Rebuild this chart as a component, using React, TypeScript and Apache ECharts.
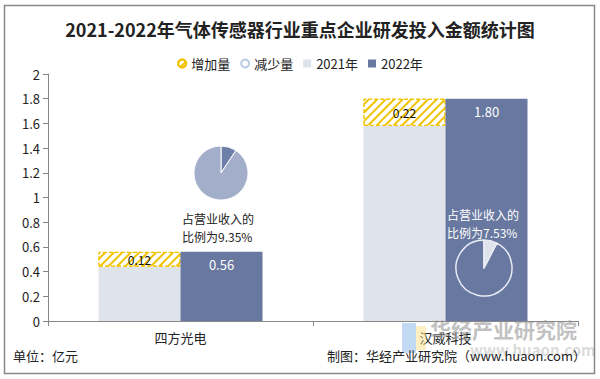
import React, { useEffect, useRef } from "react";
import * as echarts from "echarts";

const categories = ["四方光电", "汉威科技"];
const values2021 = [0.44, 1.58];
const increase = [0.12, 0.22];
const values2022 = [0.56, 1.8];
const decrease: (number | null)[] = [null, null];
const ratio1 = [9.35, 90.65];
const ratio2 = [7.53, 92.47];
const yTicks = [0, 2];

const DARK = "#6878a0";
const LIGHT = "#dfe3ec";
const YELLOW = "#f2c200";
const FONT = "'Noto Sans CJK SC', 'Noto Sans', sans-serif";

export default function App() {
  const ref = useRef<HTMLDivElement>(null);
  useEffect(() => {
    if (!ref.current) return;
    const chart = echarts.init(ref.current, null, { renderer: "svg" });
    chart.setOption({
      animation: false,
      textStyle: { fontFamily: FONT },
      title: {
        text: "2021-2022年气体传感器行业重点企业研发投入金额统计图",
        left: "center",
        top: 15,
        textStyle: { fontSize: 18, fontWeight: "bold", color: "#222", fontFamily: FONT },
      },
      legend: {
        top: 52,
        left: "center",
        itemWidth: 8,
        itemHeight: 8,
        itemGap: 10,
        textStyle: { fontSize: 13, color: "#222" },
        data: [
          { name: "增加量", icon: "circle", itemStyle: { color: "#fff", borderColor: YELLOW, borderWidth: 2 } },
          { name: "减少量", icon: "circle", itemStyle: { color: "#fff", borderColor: "#b8cce4", borderWidth: 2 } },
          { name: "2021年", icon: "rect", itemStyle: { color: LIGHT } },
          { name: "2022年", icon: "rect", itemStyle: { color: DARK } },
        ],
      },
      grid: { left: 48, right: 22, top: 74, bottom: 58 },
      xAxis: {
        type: "category",
        data: categories,
        axisLine: { lineStyle: { color: "#888" } },
        axisTick: { show: true, alignWithLabel: false, lineStyle: { color: "#888" } },
        axisLabel: { color: "#222", fontSize: 13, margin: 10 },
      },
      yAxis: {
        type: "value",
        min: yTicks[0],
        max: yTicks[1],
        interval: 0.2,
        axisLine: { show: true, lineStyle: { color: "#888" } },
        axisTick: { show: true, lineStyle: { color: "#888" } },
        splitLine: { show: false },
        axisLabel: { color: "#222", fontSize: 13, margin: 8 },
      },
      series: [
        {
          name: "2021年",
          type: "bar",
          stack: "a",
          barWidth: 82,
          barGap: "0%",
          data: values2021,
          itemStyle: { color: LIGHT },
        },
        {
          name: "增加量",
          type: "bar",
          stack: "a",
          barWidth: 82,
          data: increase,
          itemStyle: {
            color: "#fff",
            borderColor: YELLOW,
            borderWidth: 1,
            borderType: "dashed",
            decal: {
              symbol: "rect",
              symbolSize: 1,
              color: YELLOW,
              dashArrayX: [1, 0],
              dashArrayY: [2, 4],
              rotation: -Math.PI / 4,
            },
          },
          label: {
            show: true,
            position: "inside",
            color: "#111",
            fontSize: 12,
            formatter: (p: any) => p.value.toFixed(2),
          },
        },
        {
          name: "减少量",
          type: "bar",
          stack: "a",
          barWidth: 82,
          data: decrease,
          itemStyle: { color: "#b8cce4" },
        },
        {
          name: "2022年",
          type: "bar",
          stack: "b",
          barWidth: 82,
          barGap: "0%",
          data: values2022,
          itemStyle: { color: DARK },
          label: {
            show: true,
            position: "insideTop",
            distance: 6,
            color: "#fff",
            fontSize: 13,
            formatter: (p: any) => p.value.toFixed(2),
          },
        },
        {
          type: "pie",
          name: "ratio1",
          center: [221, 173],
          radius: 27,
          startAngle: 90,
          clockwise: true,
          silent: true,
          z: 5,
          label: { show: false },
          labelLine: { show: false },
          itemStyle: { borderColor: "#fff", borderWidth: 1 },
          data: [
            { value: ratio1[0], itemStyle: { color: "#6d7fa6" } },
            { value: ratio1[1], itemStyle: { color: "#a3aecb" } },
          ],
        },
        {
          type: "pie",
          name: "ratio2",
          center: [484, 268],
          radius: 28,
          startAngle: 90,
          clockwise: true,
          silent: true,
          z: 5,
          label: { show: false },
          labelLine: { show: false },
          itemStyle: { borderColor: "#e8ebf2", borderWidth: 1.5 },
          data: [
            { value: ratio2[0], itemStyle: { color: LIGHT } },
            { value: ratio2[1], itemStyle: { color: "rgba(0,0,0,0)" } },
          ],
        },
      ],
      graphic: [
        {
          type: "rect",
          z: 100,
          shape: { x: 4.5, y: 5.5, width: 590, height: 368 },
          style: { fill: "none", stroke: "#888", lineWidth: 1.5 },
          silent: true,
        },
        {
          type: "text",
          z: 100,
          left: 182,
          top: 209,
          style: { text: "占营业收入的\n比例为9.35%", fill: "#222", fontSize: 12, lineHeight: 18, fontFamily: FONT },
        },
        {
          type: "text",
          z: 100,
          left: 447,
          top: 205,
          style: { text: "占营业收入的\n比例为7.53%", fill: "#fff", fontSize: 12, lineHeight: 18, fontFamily: FONT },
        },
        {
          type: "rect",
          z: 50,
          shape: { x: 402, y: 323, width: 14, height: 30 },
          style: { fill: "rgba(120,170,230,0.45)" },
          silent: true,
        },
        {
          type: "rect",
          z: 50,
          shape: { x: 416, y: 326, width: 10, height: 24 },
          style: { fill: "rgba(250,220,120,0.45)" },
          silent: true,
        },
        {
          type: "text",
          z: 50,
          left: 430,
          top: 318,
          style: { text: "华经产业研究院", fill: "rgba(140,140,140,0.55)", fontSize: 21, fontWeight: "bold", fontFamily: FONT },
          silent: true,
        },
        {
          type: "text",
          z: 50,
          left: 470,
          top: 342,
          style: { text: "www.huaon.com", fill: "rgba(160,160,160,0.4)", fontSize: 15, fontWeight: "bold", fontFamily: FONT },
          silent: true,
        },
        {
          type: "text",
          z: 100,
          left: 13,
          top: 349,
          style: { text: "单位：亿元", fill: "#222", fontSize: 13, fontFamily: FONT },
        },
        {
          type: "text",
          z: 100,
          right: 14,
          top: 349,
          style: { text: "制图：华经产业研究院（www.huaon.com）", fill: "#222", fontSize: 13, fontFamily: FONT },
        },
      ],
    });
    return () => chart.dispose();
  }, []);
  return <div ref={ref} style={{ width: 600, height: 379, position: "absolute", left: 0, top: 0, background: "#fff" }} />;
}
